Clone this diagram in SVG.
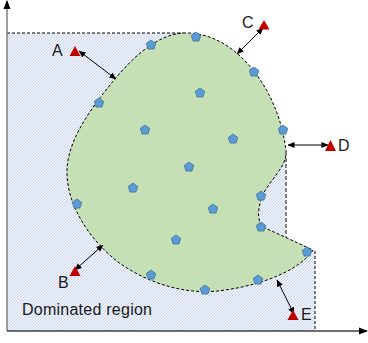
<svg xmlns="http://www.w3.org/2000/svg" width="368" height="343" viewBox="0 0 368 343">
<style>
.lbl{font-family:"Liberation Sans",Arial,sans-serif;font-size:16px;fill:#1a1a1a}
.dash{fill:none;stroke:#000;stroke-width:1;stroke-dasharray:3 2}
.arr{fill:none;stroke:#000;stroke-width:1;marker-start:url(#ah);marker-end:url(#ah)}
.tri{fill:#C00000}
.pt{fill:#5B9BD5;stroke:#41719C;stroke-width:0.8}
</style>
<defs>
<pattern id="hatch" width="3" height="3" patternUnits="userSpaceOnUse">
<rect width="3" height="3" fill="#EEF2FA"/>
<path d="M-1,1 L1,-1 M0,3 L3,0 M2,4 L4,2" stroke="#B9C8E6" stroke-width="0.7"/>
</pattern>
<marker id="ah" viewBox="0 0 8 8" refX="7.5" refY="4" markerWidth="7" markerHeight="7" markerUnits="userSpaceOnUse" orient="auto-start-reverse">
<path d="M0,0.5 L8,4 L0,7.5 Z" fill="#000"/>
</marker>
<marker id="axh" viewBox="0 0 10 10" refX="9" refY="5" markerWidth="9" markerHeight="9" markerUnits="userSpaceOnUse" orient="auto">
<path d="M0,1 L10,5 L0,9 Z" fill="#000"/>
</marker>
<path id="pent" d="M0,-5 L4.76,-1.55 L2.94,4.05 L-2.94,4.05 L-4.76,-1.55 Z"/>
</defs>

<g id="dominated-region">
<path d="M7,33 H183 C205,32 225,42 240,56 C260,75 280,105 286,150 V237 L313,250 L315,251 V331 H7 Z" fill="url(#hatch)"/>
</g>

<g id="feasible-region">
<path d="M183,33 C205,32 225,42 240,56 C260,75 280,105 286,150 C288,168 266,182 261,200 C257,213 258,222 263,227 L313,250 C300,270 262,285 225,290 C190,296 150,285 118,262 C90,240 66,205 67,170 C68,140 90,110 110,85 C130,60 155,35 183,33 Z" fill="#C5E0B4" stroke="#000" stroke-width="1" stroke-dasharray="3 2"/>
</g>

<g id="boundaries">
<path class="dash" d="M7,33 H183"/>
<path d="M286,152 V237" fill="none" stroke="#7F7F7F" stroke-width="2" stroke-dasharray="4 2"/>
<path class="dash" d="M315,251 V330"/>
</g>

<g id="points">
<use href="#pent" class="pt" x="151" y="45"/>
<use href="#pent" class="pt" x="196" y="37"/>
<use href="#pent" class="pt" x="254" y="72"/>
<use href="#pent" class="pt" x="99" y="103"/>
<use href="#pent" class="pt" x="200" y="93"/>
<use href="#pent" class="pt" x="145" y="130"/>
<use href="#pent" class="pt" x="283" y="130"/>
<use href="#pent" class="pt" x="233" y="139"/>
<use href="#pent" class="pt" x="189" y="167"/>
<use href="#pent" class="pt" x="133" y="188"/>
<use href="#pent" class="pt" x="77" y="204"/>
<use href="#pent" class="pt" x="213" y="209"/>
<use href="#pent" class="pt" x="261" y="196"/>
<use href="#pent" class="pt" x="261" y="227"/>
<use href="#pent" class="pt" x="176" y="240"/>
<use href="#pent" class="pt" x="307" y="252"/>
<use href="#pent" class="pt" x="151" y="275"/>
<use href="#pent" class="pt" x="258" y="280"/>
<use href="#pent" class="pt" x="205" y="290"/>
</g>

<g id="connectors">
<line class="arr" x1="79" y1="51" x2="116" y2="79"/>
<line class="arr" x1="75" y1="270" x2="103" y2="245"/>
<line class="arr" x1="263" y1="28" x2="237" y2="54"/>
<line class="arr" x1="328" y1="145" x2="288" y2="145"/>
<line class="arr" x1="294" y1="314" x2="277" y2="280"/>
</g>

<g id="point-A"><polygon class="tri" points="75,46 69.5,56 80.5,56"/><text class="lbl" x="52" y="56">A</text></g>
<g id="point-B"><polygon class="tri" points="75,266 69.5,276 80.5,276"/><text class="lbl" x="58" y="288">B</text></g>
<g id="point-C"><polygon class="tri" points="264,20 258.5,29.5 269.5,29.5"/><text class="lbl" x="242" y="28">C</text></g>
<g id="point-D"><polygon class="tri" points="330.5,140 325,151 336,151"/><text class="lbl" x="338" y="151">D</text></g>
<g id="point-E"><polygon class="tri" points="293,310 287.5,320 298.5,320"/><text class="lbl" x="301" y="320">E</text></g>

<g id="label"><text class="lbl" x="22" y="315" textLength="130" lengthAdjust="spacing">Dominated region</text></g>

<g id="axes">
<line x1="7" y1="331" x2="7" y2="1" stroke="#7F7F7F" stroke-width="1.5" marker-end="url(#axh)"/>
<line x1="7" y1="331" x2="367" y2="331" stroke="#404040" stroke-width="1.5" marker-end="url(#axh)"/>
</g>
</svg>
